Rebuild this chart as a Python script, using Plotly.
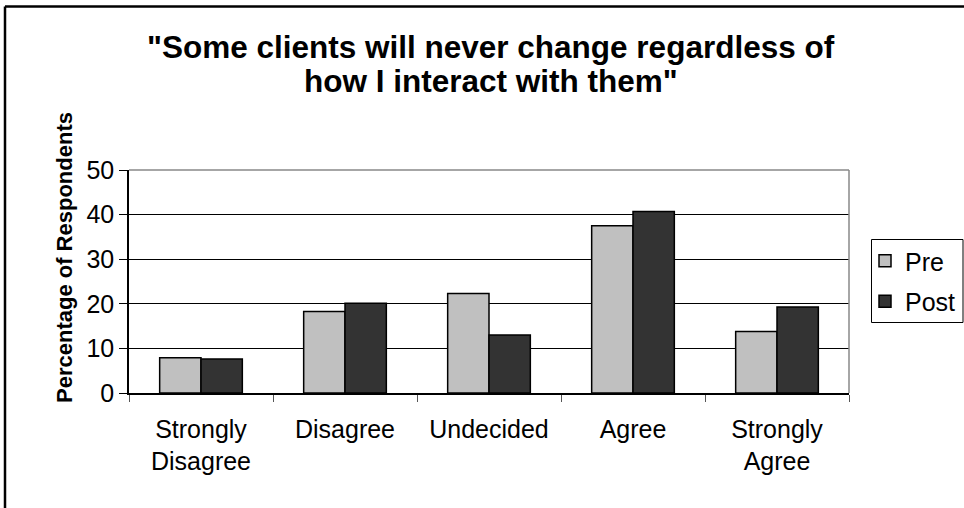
import plotly.graph_objects as go

# Survey responses (percentage of respondents)
categories = ["Strongly<br>Disagree", "Disagree", "Undecided", "Agree", "Strongly<br>Agree"]
pre_values = [7.9, 18.3, 22.3, 37.5, 13.8]
post_values = [7.6, 20.1, 13.0, 40.7, 19.3]
y_ticks = [0, 10, 20, 30, 40, 50]
title_lines = ["\"Some clients will never change regardless of", "how I interact with them\""]

W, H = 964, 508
L, R, T, B = 129, 115, 170, 115
PW, PH = W - L - R, H - T - B


def px_x(x):
    return (x - L) / PW


def px_y(y):
    return (H - B - y) / PH


FONT = "Liberation Sans, Arial, sans-serif"

fig = go.Figure()
fig.add_trace(go.Bar(
    x=categories, y=pre_values, name="Pre", legendgroup="pre",
    marker=dict(color="#c0c0c0", line=dict(color="black", width=1.5)),
))
fig.add_trace(go.Bar(
    x=categories, y=post_values, name="Post", legendgroup="post",
    marker=dict(color="#333333", line=dict(color="black", width=1.5)),
))

fig.update_layout(
    width=W, height=H,
    margin=dict(l=L, r=R, t=T, b=B, pad=0, autoexpand=False),
    paper_bgcolor="white", plot_bgcolor="white",
    font=dict(family=FONT, size=25, color="black"),
    barmode="group", bargap=0.426, bargroupgap=0,
    showlegend=True,
    legend=dict(
        x=px_x(865), xanchor="left", y=px_y(281), yanchor="middle",
        bgcolor="rgba(0,0,0,0)", borderwidth=0,
        font=dict(size=25), tracegroupgap=5,
    ),
)

fig.update_xaxes(
    type="category", showgrid=False,
    showline=True, linecolor="black", linewidth=1.5,
    ticks="outside", tickson="boundaries", ticklen=7, tickcolor="#555555",
    tickfont=dict(size=25), ticklabelstandoff=13,
)
fig.update_yaxes(
    range=[0, 50], tickvals=y_ticks,
    showgrid=True, gridcolor="black", gridwidth=1,
    showline=True, linecolor="black", linewidth=1.5,
    ticks="outside", ticklen=8, tickcolor="black",
    tickfont=dict(size=25), zeroline=False,
)

# Chart title, one annotation per line
for text, yc in zip(title_lines, [47, 81]):
    fig.add_annotation(
        text=f"<b>{text}</b>", xref="paper", yref="paper",
        x=px_x(491), y=px_y(yc), xanchor="center", yanchor="middle",
        showarrow=False, font=dict(size=31.5, family=FONT, color="black"),
    )

# Axis title
fig.add_annotation(
    text="<b>Percentage of Respondents</b>", textangle=-90,
    xref="paper", yref="paper", x=px_x(64), y=px_y(258),
    xanchor="center", yanchor="middle", showarrow=False,
    font=dict(size=22, family=FONT, color="black"),
)

# Plot-area frame: grey top and right edges
fig.add_shape(type="line", xref="paper", yref="paper", x0=0, x1=1, y0=1, y1=1,
              line=dict(color="#888888", width=1.5), layer="above")
fig.add_shape(type="line", xref="paper", yref="paper", x0=1, x1=1, y0=0, y1=1,
              line=dict(color="#888888", width=1.5), layer="above")

# Legend box
fig.add_shape(type="rect", xref="paper", yref="paper",
              x0=px_x(871.5), x1=px_x(963), y0=px_y(322.5), y1=px_y(239.5),
              line=dict(color="black", width=1), fillcolor="rgba(0,0,0,0)")

# Outer chart border
fig.add_shape(type="line", xref="paper", yref="paper",
              x0=px_x(5), x1=px_x(980), y0=px_y(6.5), y1=px_y(6.5),
              line=dict(color="black", width=2.5))
fig.add_shape(type="line", xref="paper", yref="paper",
              x0=px_x(5), x1=px_x(5), y0=px_y(6.5), y1=px_y(520),
              line=dict(color="black", width=2.5))

fig.write_html("out.html")
